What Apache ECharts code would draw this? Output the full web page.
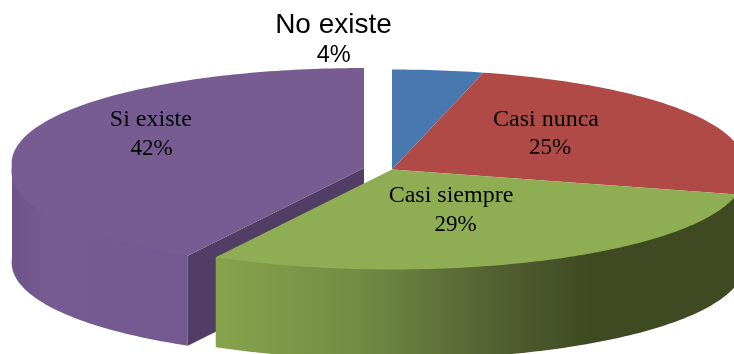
<!DOCTYPE html>
<html>
<head>
<meta charset="utf-8">
<style>html,body{margin:0;padding:0;background:#fff}#c{width:734px;height:354px}</style>
<script src="https://cdn.jsdelivr.net/npm/echarts@6/dist/echarts.min.js"></script>
</head>
<body>
<div id="c"></div>
<script>
// Data
var categories = ['No existe', 'Casi nunca', 'Casi siempre', 'Si existe'];
var percents = [4, 25, 29, 42];
var valueLabels = ['4%', '25%', '29%', '42%'];

// Geometry of the tilted pie
var CX = 392, CY = 169.5, RX = 352, RY = 100, DEPTH = 90, PERSP = 0.045;
var explode = [[0, 0], [0, 0], [0, 0], [-28, -1.5]];

// Styles
var topColors = ['#4878AE', '#B04A47', '#8FAE53', '#775C92'];
var cutColors = ['#34567D', '#7A3230', '#5F7437', '#513D66'];
var sideStops = [
  [[0, '#34567D'], [1, '#34567D']],
  [[0, '#4F1F1E'], [1, '#4F1F1E']],
  [[0, '#87A34C'], [0.27, '#728D44'], [0.55, '#525F30'], [0.72, '#3F4A23'], [1, '#3F4A23']],
  [[0, '#6E5489'], [0.2, '#765B92'], [1, '#745990']]
];
var sideRange = [[0, 734], [0, 734], [215, 734], [12, 188]];

// Text placement: [name centre x, name baseline, name px, value centre x, value baseline, value px, family]
var serif = '"Liberation Serif","Times New Roman",serif';
var sans = '"Liberation Sans",Arial,sans-serif';
var textLayout = [
  [333.5, 34, 28, 333.7, 63, 23.5, sans],
  [546, 127, 24, 550, 155, 23, serif],
  [451, 203, 24, 455.7, 232, 23, serif],
  [150.8, 127, 24, 151.7, 156, 23, serif]
];

function rim(i, deg, dy) {
  var a = deg * Math.PI / 180, s = Math.sin(a), c = Math.cos(a);
  var f = 1 + PERSP * Math.abs(c);
  return [CX + explode[i][0] + RX * s * f, CY + explode[i][1] - RY * c + (dy || 0)];
}
function arc(i, a0, a1, dy) {
  var pts = [], n = Math.max(2, Math.ceil(Math.abs(a1 - a0)));
  for (var k = 0; k <= n; k++) pts.push(rim(i, a0 + (a1 - a0) * k / n, dy));
  return pts;
}
function text(str, x, base, size, family) {
  return {
    type: 'text', z2: 30, silent: true,
    style: {
      text: str, x: x, y: base - size * 0.3, align: 'center', verticalAlign: 'middle',
      font: size + 'px ' + family, fill: '#000'
    }
  };
}

var total = percents.reduce(function (a, b) { return a + b; }, 0);
var rows = percents.map(function (v, i) {
  var before = percents.slice(0, i).reduce(function (a, b) { return a + b; }, 0);
  return { name: categories[i], value: [before / total * 360, (before + v) / total * 360, v, i] };
});

var chart = echarts.init(document.getElementById('c'), null, { renderer: 'canvas' });
chart.setOption({
  animation: false,
  series: [{
    type: 'custom',
    coordinateSystem: 'none',
    silent: true,
    clip: false,
    data: rows,
    renderItem: function (params, api) {
      var a0 = api.value(0), a1 = api.value(1), i = api.value(3);
      var base = i === 3 ? 0 : 10;
      var kids = [];
      var apex = [CX + explode[i][0], CY + explode[i][1]];
      // outer wall (only the front half of the rim is visible); starts a little
      // above the rim so the top face overlaps it and no pale seam shows
      var s0 = Math.max(a0, 90), s1 = Math.min(a1, 270);
      if (s1 > s0) {
        var wall = [rim(i, s0, 0)].concat(arc(i, s0 + 1, s1 - 1, -3), [rim(i, s1, 0)], arc(i, s1, s0, DEPTH));
        kids.push({
          type: 'polygon', z2: base + 1, shape: { points: wall },
          style: {
            fill: new echarts.graphic.LinearGradient(sideRange[i][0], 0, sideRange[i][1], 0,
              sideStops[i].map(function (d) { return { offset: d[0], color: d[1] }; }), true)
          }
        });
      }
      // cut face of the pulled-out slice
      if (explode[i][0] !== 0) {
        var e = rim(i, a0, 0), eb = rim(i, a0, DEPTH);
        kids.push({
          type: 'polygon', z2: base + 2,
          shape: { points: [apex, e, eb, [apex[0], apex[1] + DEPTH]] },
          style: { fill: cutColors[i] }
        });
      }
      // top face
      kids.push({
        type: 'polygon', z2: base + 3,
        shape: { points: [apex].concat(arc(i, a0, a1, 0)) },
        style: { fill: topColors[i] }
      });
      var t = textLayout[i];
      kids.push(text(categories[i], t[0], t[1], t[2], t[6]));
      kids.push(text(valueLabels[i], t[3], t[4], t[5], t[6]));
      return { type: 'group', children: kids };
    }
  }]
});
</script>
</body>
</html>
